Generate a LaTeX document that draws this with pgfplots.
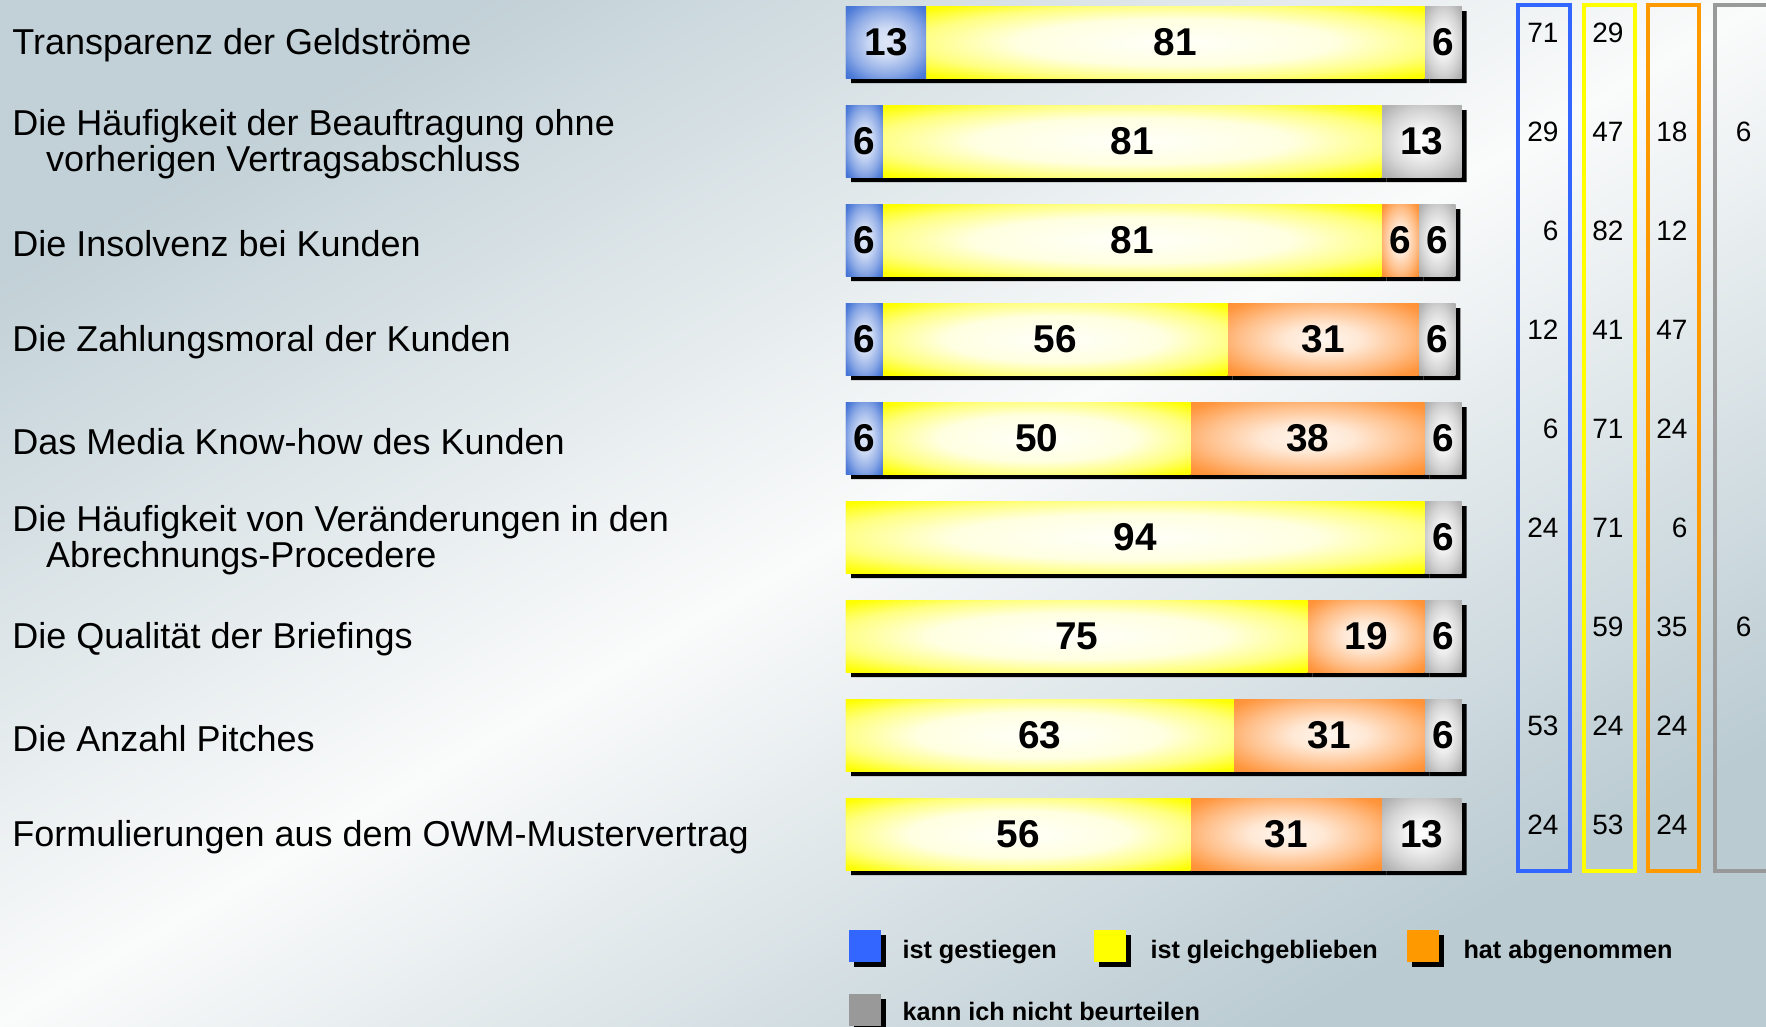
\documentclass[border=0pt]{standalone}
\usepackage{pgfplots}
\pgfplotsset{compat=1.18}
\usepackage{pgfplotstable}
\usepackage{fontspec}
\setmainfont{Liberation Sans}

\definecolor{cBlue}{HTML}{3366FF}
\definecolor{cBlueBar}{HTML}{3468D2}
\definecolor{cYel}{HTML}{FFFF00}
\definecolor{cOra}{HTML}{FF9900}
\definecolor{cOraBar}{HTML}{FF8A28}
\definecolor{cGray}{HTML}{999999}
\definecolor{cGrayBar}{HTML}{A8A8A8}
\definecolor{bgA}{HTML}{C2D1D7}
\definecolor{bgB}{HTML}{BACBD2}
\definecolor{bgM}{HTML}{FAFBFB}

\pgfdeclareradialshading{shB}{\pgfpoint{0bp}{0bp}}{color(0bp)=(white!84!cBlueBar); color(10bp)=(white!76!cBlueBar); color(22bp)=(cBlueBar!55!white); color(32bp)=(cBlueBar!88!white); color(39bp)=(cBlueBar); color(50bp)=(cBlueBar)}
\pgfdeclareradialshading{shY}{\pgfpoint{0bp}{0bp}}{color(0bp)=(cYel!2!white); color(16bp)=(cYel!12!white); color(26bp)=(cYel!50!white); color(34bp)=(cYel); color(50bp)=(cYel)}
\pgfdeclareradialshading{shO}{\pgfpoint{0bp}{0bp}}{color(0bp)=(cOraBar!8!white); color(10bp)=(cOraBar!20!white); color(22bp)=(cOraBar!55!white); color(32bp)=(cOraBar!90!white); color(39bp)=(cOraBar); color(50bp)=(cOraBar)}
\pgfdeclareradialshading{shG}{\pgfpoint{0bp}{0bp}}{color(0bp)=(white); color(10bp)=(cGrayBar!15!white); color(22bp)=(cGrayBar!50!white); color(32bp)=(cGrayBar!88!white); color(39bp)=(cGrayBar); color(50bp)=(cGrayBar)}

\pgfplotstableread{
row b y o g
1 13 81 0 6
2 6 81 0 13
3 6 81 6 6
4 6 56 31 6
5 6 50 38 6
6 0 94 0 6
7 0 75 19 6
8 0 63 31 6
9 0 56 31 13
}\bardata

\pgfplotstableread{
row v
1 71
2 29
3 6
4 12
5 6
6 24
8 53
9 24
}\colB
\pgfplotstableread{
row v
1 29
2 47
3 82
4 41
5 71
6 71
7 59
8 24
9 53
}\colY
\pgfplotstableread{
row v
2 18
3 12
4 47
5 24
6 6
7 35
8 24
9 24
}\colO
\pgfplotstableread{
row v
2 6
7 6
}\colG

\begin{document}
\begin{tikzpicture}
\shade[top color=bgA, bottom color=bgB, middle color=bgM, shading angle=30] (0,0) rectangle (706.4pt,410.4pt);

% shadows
\begin{axis}[
  at={(340.4pt,55pt)}, anchor=south west,
  scale only axis, width=246.24pt, height=356.4pt,
  xbar stacked, bar width=0.727,
  xmin=0, xmax=100, ymin=0.5, ymax=9.5, y dir=reverse,
  hide axis, clip=false,
]
\addplot[fill=black, draw=none] table[x=b, y=row] \bardata;
\addplot[fill=black, draw=none] table[x=y, y=row] \bardata;
\addplot[fill=black, draw=none] table[x=o, y=row] \bardata;
\addplot[fill=black, draw=none] table[x=g, y=row] \bardata;
\end{axis}

% bars
\begin{axis}[
  at={(338.4pt,57pt)}, anchor=south west,
  scale only axis, width=246.24pt, height=356.4pt,
  xbar stacked, bar width=0.727,
  xmin=0, xmax=100, ymin=0.5, ymax=9.5, y dir=reverse,
  axis line style={draw=none}, tick style={draw=none},
  xtick=\empty, ytick={1,...,9},
  yticklabels={
    {Transparenz der Geldströme},
    {Die Häufigkeit der Beauftragung ohne\\\hspace*{13.5pt}vorherigen Vertragsabschluss},
    {Die Insolvenz bei Kunden},
    {Die Zahlungsmoral der Kunden},
    {Das Media Know-how des Kunden},
    {Die Häufigkeit von Veränderungen in den\\\hspace*{13.5pt}Abrechnungs-Procedere},
    {Die Qualität der Briefings},
    {Die Anzahl Pitches},
    {Formulierungen aus dem OWM-Mustervertrag}},
  yticklabel style={anchor=west, align=left, inner sep=0pt, xshift=-333.6pt, yshift=-1.3pt,
     font=\fontsize{14.4}{14.4}\selectfont},
  nodes near coords={\pgfmathfloatifflags{\pgfplotspointmeta}{0}{}{\pgfmathprintnumber[assume math mode=true]{\pgfplotspointmeta}}},
  nodes near coords align={center},
  visualization depends on={rawx \as \rx},
  every node near coord/.append style={font=\bfseries\fontsize{15.5}{16}\selectfont,
     inner sep=0pt, outer sep=0pt, text=black, shade,
     minimum height=28.79pt, minimum width={max(\rx*2.4624,0.05)*1pt}},
  clip=false,
]
\addplot[draw=none, fill=cBlueBar, every node near coord/.append style={shading=shB}] table[x=b, y=row] \bardata;
\addplot[draw=none, fill=cYel, every node near coord/.append style={shading=shY}] table[x=y, y=row] \bardata;
\addplot[draw=none, fill=cOraBar, every node near coord/.append style={shading=shO}] table[x=o, y=row] \bardata;
\addplot[draw=none, fill=cGrayBar, every node near coord/.append style={shading=shG}] table[x=g, y=row] \bardata;
\end{axis}

% right columns
\begin{axis}[
  at={(600pt,57pt)}, anchor=south west,
  scale only axis, width=106.4pt, height=356.4pt,
  xmin=1500, xmax=1766, ymin=0.5, ymax=9.5, y dir=reverse,
  hide axis, clip=false,
  nodes near coords={\pgfplotspointmeta}, point meta=explicit symbolic,
  nodes near coords align={east},
  every node near coord/.append style={inner sep=0pt, yshift=3.6pt, text=black,
     font=\fontsize{11.2}{12}\selectfont},
]
\draw[cBlue, line width=1.6pt] (axis cs:1518,0.626) rectangle (axis cs:1570,9.374);
\draw[cYel, line width=1.6pt] (axis cs:1584,0.626) rectangle (axis cs:1635,9.374);
\draw[cOra, line width=1.6pt] (axis cs:1648,0.626) rectangle (axis cs:1699,9.374);
\draw[cGray, line width=1.6pt] (axis cs:1715,0.626) rectangle (axis cs:1768,9.374);
\addplot[draw=none, mark=none] table[x expr=1559, y=row, meta=v] \colB;
\addplot[draw=none, mark=none] table[x expr=1624, y=row, meta=v] \colY;
\addplot[draw=none, mark=none] table[x expr=1688, y=row, meta=v] \colO;
\addplot[draw=none, mark=none] table[x expr=1752, y=row, meta=v] \colG;
\end{axis}

% legend
\begin{scope}[every node/.style={anchor=base west, inner sep=0pt, font=\bfseries\fontsize{10.1}{12}\selectfont}]
\fill[black] (341.6pt,23.6pt) rectangle ++(12.8pt,12.8pt);
\fill[cBlue] (339.6pt,25.6pt) rectangle ++(12.8pt,12.8pt);
\node at (360.8pt,27.2pt) {ist gestiegen};
\fill[black] (439.6pt,23.6pt) rectangle ++(12.8pt,12.8pt);
\fill[cYel] (437.6pt,25.6pt) rectangle ++(12.8pt,12.8pt);
\node at (460pt,27.2pt) {ist gleichgeblieben};
\fill[black] (564.8pt,23.6pt) rectangle ++(12.8pt,12.8pt);
\fill[cOra] (562.8pt,25.6pt) rectangle ++(12.8pt,12.8pt);
\node at (585.2pt,27.2pt) {hat abgenommen};
\fill[black] (341.6pt,-2pt) rectangle ++(12.8pt,12.8pt);
\fill[cGray] (339.6pt,0pt) rectangle ++(12.8pt,12.8pt);
\node at (360.8pt,2.4pt) {kann ich nicht beurteilen};
\end{scope}

\pgfresetboundingbox
\useasboundingbox (0,0) rectangle (706.4pt,410.4pt);
\end{tikzpicture}
\end{document}
